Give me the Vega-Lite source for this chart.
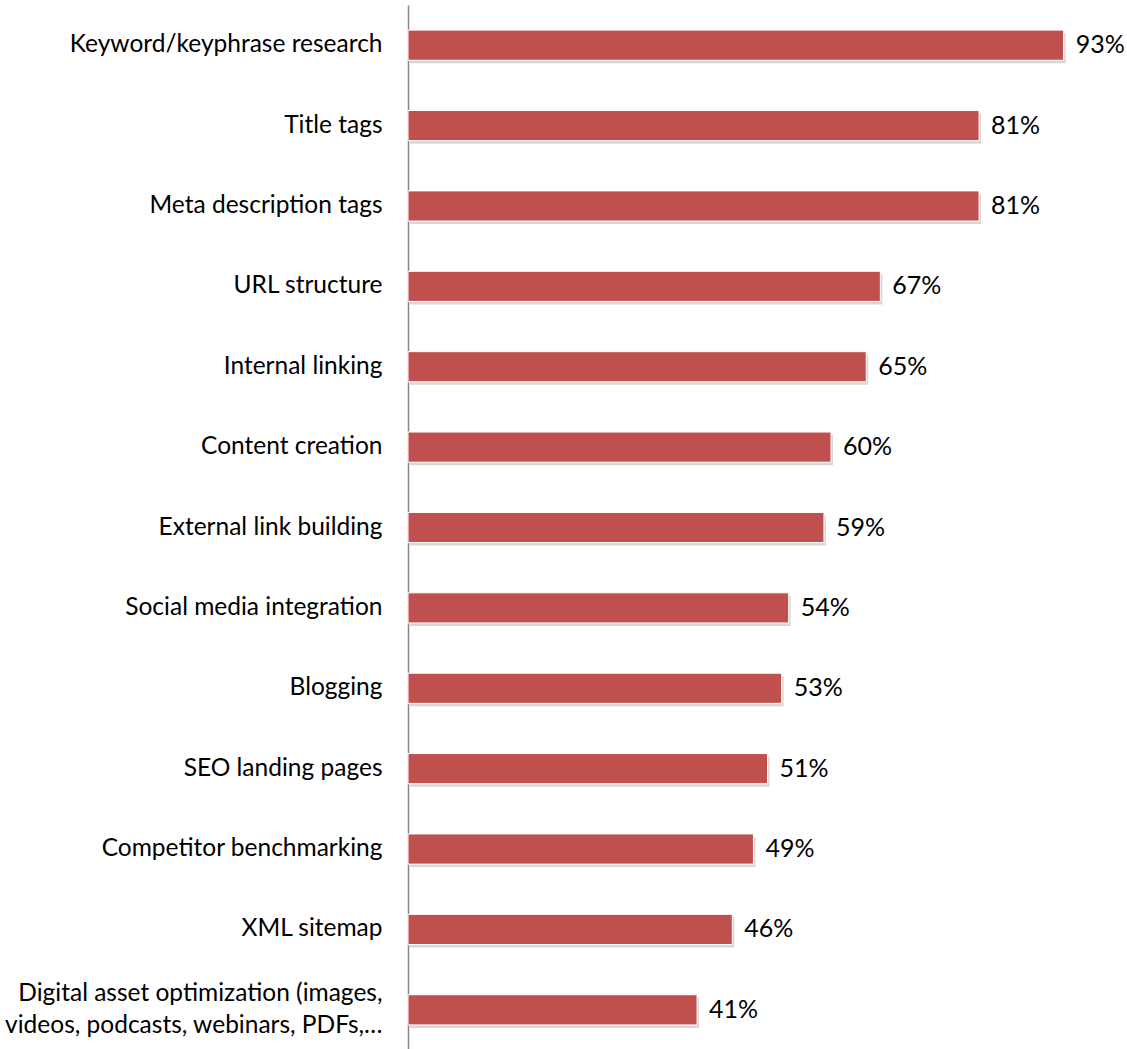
{
  "$schema": "https://vega.github.io/schema/vega-lite/v6.json",
  "width": 705,
  "height": 1045,
  "autosize": "none",
  "padding": {"left": 408, "top": 5, "right": 14, "bottom": 0},
  "background": "white",
  "config": {"view": {"stroke": null}},
  "data": {
    "values": [
      {"task": "Keyword/keyphrase research", "share": 0.93},
      {"task": "Title tags", "share": 0.81},
      {"task": "Meta description tags", "share": 0.81},
      {"task": "URL structure", "share": 0.67},
      {"task": "Internal linking", "share": 0.65},
      {"task": "Content creation", "share": 0.60},
      {"task": "External link building", "share": 0.59},
      {"task": "Social media integration", "share": 0.54},
      {"task": "Blogging", "share": 0.53},
      {"task": "SEO landing pages", "share": 0.51},
      {"task": "Competitor benchmarking", "share": 0.49},
      {"task": "XML sitemap", "share": 0.46},
      {"task": "Digital asset optimization (images,|videos, podcasts, webinars, PDFs,…", "share": 0.41}
    ]
  },
  "encoding": {
    "y": {
      "field": "task",
      "type": "nominal",
      "sort": null,
      "scale": {"paddingInner": 0.625, "paddingOuter": 0.3125},
      "axis": {
        "title": null,
        "ticks": false,
        "domain": true,
        "domainColor": "#868686",
        "domainWidth": 1.5,
        "labelPadding": 26,
        "labelFont": "Lato",
        "labelFontSize": 24.5,
        "labelFontWeight": "normal",
        "labelColor": "#000000",
        "labelLimit": 0,
        "labelLineHeight": 32,
        "labelOffset": {"condition": {"test": "indexof(datum.value, '|') >= 0", "value": -16}, "value": 0},
        "labelExpr": "split(datum.value, '|')"
      }
    },
    "x": {
      "field": "share",
      "type": "quantitative",
      "scale": {"domain": [0, 1]},
      "axis": null
    }
  },
  "layer": [
    {
      "mark": {"type": "bar", "color": "#A6A6A6", "opacity": 0.45, "xOffset": 2, "yOffset": 3}
    },
    {
      "mark": {"type": "bar", "color": "#C0504D", "stroke": "#FFFFFF", "strokeWidth": 1}
    },
    {
      "mark": {"type": "text", "align": "left", "baseline": "middle", "dx": 12, "font": "Lato", "fontSize": 25, "color": "#000000"},
      "encoding": {"text": {"field": "share", "type": "quantitative", "format": ".0%"}}
    }
  ]
}
